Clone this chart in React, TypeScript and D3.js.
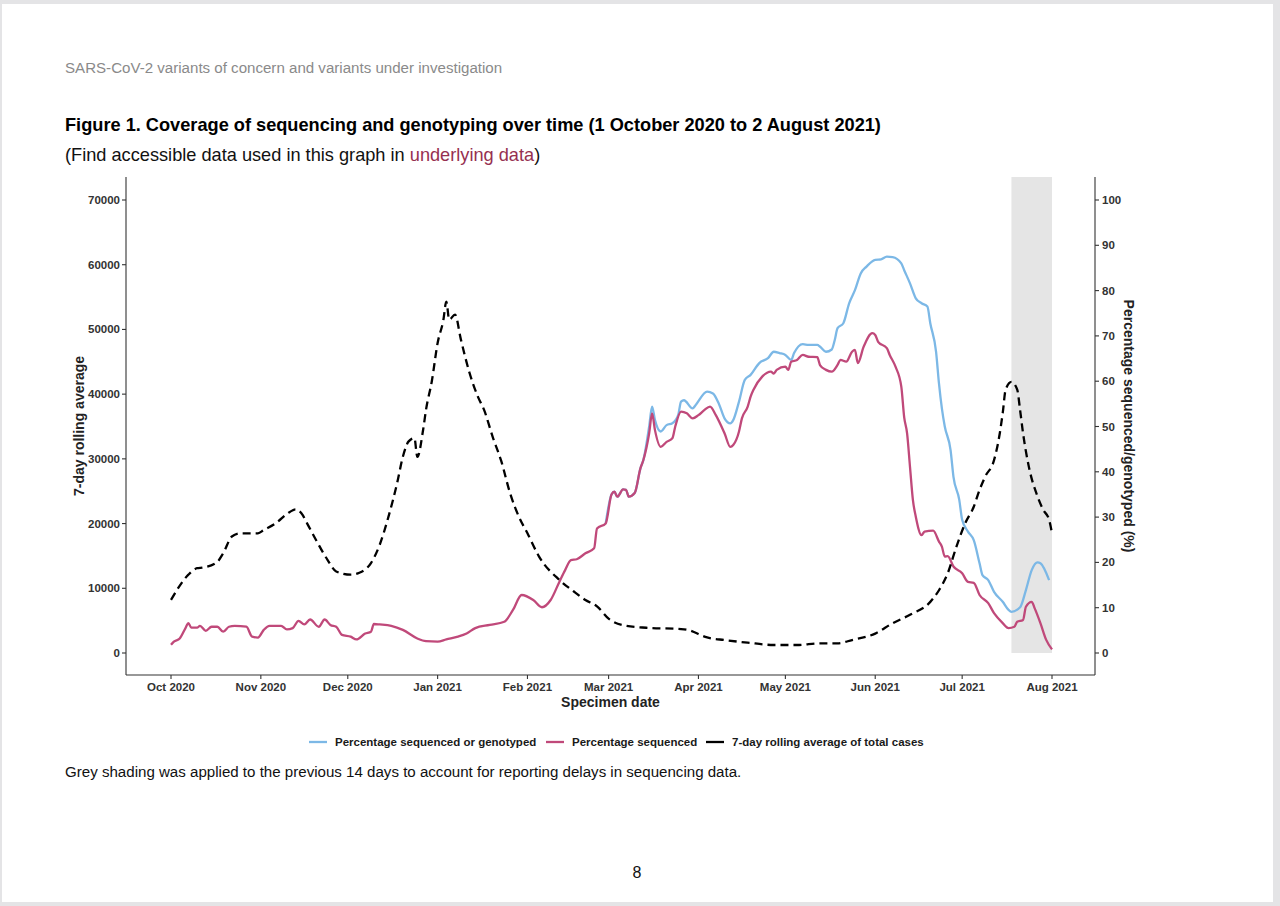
import React from "react";
import * as d3 from "d3";

// ---------- DATA ----------
const monthTicks: string[] = [
  "2020-10-01", "2020-11-01", "2020-12-01", "2021-01-01", "2021-02-01", "2021-03-01",
  "2021-04-01", "2021-05-01", "2021-06-01", "2021-07-01", "2021-08-01",
];
const leftTicks: number[] = [0, 10000, 20000, 30000, 40000, 50000, 60000, 70000];
const rightTicks: number[] = [0, 10, 20, 30, 40, 50, 60, 70, 80, 90, 100];

const shadeRange: string[] = ["2021-07-18", "2021-08-01"];

// 7-day rolling average of total cases (left axis)
const caseDates: string[] = [
  "2020-10-01", "2020-10-07", "2020-10-10", "2020-10-12", "2020-10-17", "2020-10-19", "2020-10-22",
  "2020-10-25", "2020-10-31", "2020-11-02", "2020-11-06", "2020-11-11", "2020-11-13", "2020-11-15",
  "2020-11-17", "2020-11-20", "2020-11-24", "2020-11-27", "2020-12-02", "2020-12-05", "2020-12-09",
  "2020-12-12", "2020-12-15", "2020-12-18", "2020-12-20", "2020-12-22", "2020-12-24", "2020-12-25",
  "2020-12-27", "2020-12-28", "2020-12-30", "2021-01-01", "2021-01-03", "2021-01-04", "2021-01-05",
  "2021-01-07", "2021-01-09", "2021-01-12", "2021-01-15", "2021-01-17", "2021-01-20", "2021-01-23",
  "2021-01-26", "2021-01-29", "2021-02-01", "2021-02-05", "2021-02-12", "2021-02-17", "2021-02-21",
  "2021-02-25", "2021-03-01", "2021-03-06", "2021-03-14", "2021-03-26", "2021-03-28", "2021-04-04",
  "2021-04-10", "2021-04-18", "2021-04-27", "2021-05-05", "2021-05-13", "2021-05-19", "2021-05-24",
  "2021-06-01", "2021-06-07", "2021-06-13", "2021-06-20", "2021-06-23", "2021-06-26", "2021-06-29",
  "2021-07-02", "2021-07-05", "2021-07-07", "2021-07-09", "2021-07-12", "2021-07-14", "2021-07-15",
  "2021-07-16", "2021-07-18", "2021-07-20", "2021-07-21", "2021-07-22", "2021-07-24", "2021-07-27",
  "2021-07-29", "2021-07-31", "2021-08-01",
];
const caseValues: number[] = [
  8200, 12100, 13100, 13200, 14100, 15400, 18000,
  18500, 18500, 19000, 20000, 21800, 22200, 21600,
  20000, 17500, 14400, 12600, 12100, 12400, 13900,
  16700, 21000, 26200, 30300, 32700, 33200, 30300,
  34500, 37600, 42000, 47900, 51500, 54300, 51500,
  52300, 48500, 43300, 39500, 37600, 33400, 29600,
  24700, 21100, 18500, 14900, 11300, 9500, 8200,
  7200, 5300, 4300, 3900, 3700, 3600, 2400,
  2000, 1600, 1240, 1240, 1500, 1500, 2000,
  3000, 4600, 5900, 7900, 9700, 12300, 16400,
  20000, 22600, 25200, 27300, 29800, 34000, 37100,
  40700, 41900, 40700, 37500, 34000, 28800, 24200,
  22100, 20600, 18500,
];

// Percentage sequenced (right axis)
const seqDates: string[] = [
  "2020-10-01", "2020-10-02", "2020-10-04", "2020-10-06", "2020-10-07", "2020-10-08", "2020-10-10",
  "2020-10-11", "2020-10-13", "2020-10-15", "2020-10-17", "2020-10-19", "2020-10-21", "2020-10-23",
  "2020-10-27", "2020-10-29", "2020-10-31", "2020-11-02", "2020-11-04", "2020-11-08", "2020-11-10",
  "2020-11-12", "2020-11-14", "2020-11-16", "2020-11-18", "2020-11-21", "2020-11-23", "2020-11-25",
  "2020-11-27", "2020-11-29", "2020-12-02", "2020-12-04", "2020-12-07", "2020-12-09", "2020-12-10",
  "2020-12-12", "2020-12-16", "2020-12-20", "2020-12-25", "2020-12-28", "2021-01-01", "2021-01-04",
  "2021-01-08", "2021-01-11", "2021-01-14", "2021-01-19", "2021-01-24", "2021-01-27", "2021-01-30",
  "2021-02-03", "2021-02-06", "2021-02-09", "2021-02-12", "2021-02-14", "2021-02-16", "2021-02-18",
  "2021-02-21", "2021-02-24", "2021-02-25", "2021-02-28", "2021-03-02", "2021-03-03", "2021-03-04",
  "2021-03-06", "2021-03-07", "2021-03-08", "2021-03-10", "2021-03-12", "2021-03-13", "2021-03-15",
  "2021-03-16", "2021-03-17", "2021-03-19", "2021-03-21", "2021-03-23", "2021-03-24", "2021-03-26",
  "2021-03-28", "2021-03-30", "2021-04-01", "2021-04-03", "2021-04-05", "2021-04-07", "2021-04-10",
  "2021-04-12", "2021-04-13", "2021-04-15", "2021-04-16", "2021-04-18", "2021-04-19", "2021-04-20",
  "2021-04-23", "2021-04-26", "2021-04-27", "2021-04-28", "2021-05-01", "2021-05-02", "2021-05-03",
  "2021-05-05", "2021-05-07", "2021-05-09", "2021-05-12", "2021-05-13", "2021-05-15", "2021-05-17",
  "2021-05-19", "2021-05-20", "2021-05-22", "2021-05-24", "2021-05-25", "2021-05-26", "2021-05-28",
  "2021-05-31", "2021-06-01", "2021-06-02", "2021-06-05", "2021-06-06", "2021-06-08", "2021-06-10",
  "2021-06-11", "2021-06-12", "2021-06-13", "2021-06-14", "2021-06-15", "2021-06-17", "2021-06-18",
  "2021-06-21", "2021-06-23", "2021-06-24", "2021-06-25", "2021-06-26", "2021-06-28", "2021-07-01",
  "2021-07-03", "2021-07-05", "2021-07-07", "2021-07-10", "2021-07-12", "2021-07-15", "2021-07-17",
  "2021-07-19", "2021-07-20", "2021-07-22", "2021-07-23", "2021-07-25", "2021-07-26", "2021-07-28",
  "2021-07-30", "2021-08-01",
];
const seqValues: number[] = [
  1.8, 2.5, 3.2, 5.5, 6.6, 5.6, 5.6,
  6.0, 4.9, 5.8, 5.8, 4.7, 5.8, 6.0,
  5.8, 3.6, 3.4, 5.1, 6.0, 6.0, 5.2,
  5.5, 7.1, 6.3, 7.4, 5.8, 7.4, 6.2,
  5.8, 4.0, 3.6, 3.0, 4.3, 4.7, 6.4,
  6.3, 6.0, 5.1, 3.2, 2.6, 2.5, 3.0,
  3.6, 4.3, 5.5, 6.2, 6.9, 9.5, 12.8,
  11.7, 10.1, 11.7, 15.7, 18.3, 20.5, 20.7,
  22.0, 23.1, 27.5, 28.6, 35.0, 35.6, 34.5,
  36.1, 36.0, 34.5, 35.3, 40.8, 42.6, 48.5,
  52.9, 49.2, 45.5, 46.6, 47.4, 50.0, 53.3,
  52.9, 51.8, 52.5, 53.6, 54.4, 52.5, 48.5,
  45.5, 45.9, 48.9, 51.8, 54.4, 56.6, 58.1,
  61.0, 62.1, 61.7, 62.5, 63.2, 62.5, 64.3,
  64.7, 65.8, 65.4, 65.3, 63.5, 62.5, 62.1,
  63.6, 64.7, 64.3, 66.5, 66.9, 64.0, 67.6,
  70.6, 70.2, 68.7, 67.3, 65.8, 63.2, 58.8,
  52.0, 48.5, 41.1, 33.8, 30.1, 26.0, 26.8,
  27.0, 24.6, 23.5, 21.3, 21.4, 19.1, 17.6,
  15.7, 15.5, 12.8, 11.0, 8.8, 6.6, 5.5,
  5.8, 6.9, 7.3, 10.2, 11.3, 9.9, 6.6,
  2.9, 0.8,
];

// Percentage sequenced or genotyped (right axis)
const seqGenoDates: string[] = [
  "2021-02-28", "2021-03-02", "2021-03-03", "2021-03-04", "2021-03-06", "2021-03-07", "2021-03-08",
  "2021-03-10", "2021-03-12", "2021-03-13", "2021-03-15", "2021-03-16", "2021-03-17", "2021-03-19",
  "2021-03-21", "2021-03-23", "2021-03-25", "2021-03-26", "2021-03-27", "2021-03-30", "2021-03-31",
  "2021-04-04", "2021-04-06", "2021-04-08", "2021-04-10", "2021-04-12", "2021-04-13", "2021-04-15",
  "2021-04-17", "2021-04-19", "2021-04-22", "2021-04-25", "2021-04-27", "2021-04-29", "2021-05-01",
  "2021-05-03", "2021-05-04", "2021-05-07", "2021-05-09", "2021-05-12", "2021-05-13", "2021-05-15",
  "2021-05-17", "2021-05-18", "2021-05-19", "2021-05-21", "2021-05-23", "2021-05-25", "2021-05-27",
  "2021-05-29", "2021-06-01", "2021-06-03", "2021-06-05", "2021-06-07", "2021-06-10", "2021-06-11",
  "2021-06-13", "2021-06-15", "2021-06-17", "2021-06-19", "2021-06-20", "2021-06-22", "2021-06-23",
  "2021-06-24", "2021-06-25", "2021-06-27", "2021-06-28", "2021-06-30", "2021-07-01", "2021-07-03",
  "2021-07-05", "2021-07-07", "2021-07-08", "2021-07-10", "2021-07-12", "2021-07-15", "2021-07-17",
  "2021-07-18", "2021-07-21", "2021-07-23", "2021-07-25", "2021-07-27", "2021-07-28", "2021-07-31",
];
const seqGenoValues: number[] = [
  28.6, 35.0, 35.6, 34.5, 36.1, 36.0, 34.5,
  35.3, 40.8, 42.6, 50.0, 54.4, 51.4, 48.9,
  50.3, 50.7, 52.5, 55.5, 55.8, 54.0, 54.7,
  57.7, 57.3, 55.1, 51.8, 50.7, 51.4, 55.5,
  60.3, 61.4, 64.0, 65.1, 66.5, 66.2, 65.8,
  64.7, 66.2, 68.2, 68.0, 68.0, 67.6, 66.5,
  67.0, 69.0, 71.7, 72.8, 77.2, 80.1, 83.8,
  85.3, 86.8, 86.9, 87.5, 87.4, 86.0, 84.5,
  81.6, 78.3, 77.2, 76.5, 72.8, 66.5, 59.5,
  54.0, 50.0, 44.8, 38.9, 33.8, 29.4, 26.8,
  24.9, 19.8, 17.2, 16.1, 13.5, 11.3, 9.5,
  9.1, 10.1, 13.9, 18.3, 20.0, 19.8, 16.1,
];

const legendLabels: string[] = [
  "Percentage sequenced or genotyped",
  "Percentage sequenced",
  "7-day rolling average of total cases",
];

// ---------- STYLE / LAYOUT ----------
const W = 1280;
const H = 906;
const FONT = "'Liberation Sans', Arial, Helvetica, sans-serif";
const BLUE = "#7cb8e6";
const PINK = "#c0497a";
const AXIS = "#333333";

const panel = { left: 126, right: 1095, top: 177, bottom: 675 };

export default function App() {
  const parse = d3.timeParse("%Y-%m-%d");
  const tickDates = monthTicks.map((s) => parse(s) as Date);

  const x = d3
    .scaleTime()
    .domain([tickDates[0], tickDates[tickDates.length - 1]])
    .range([171, 1052]);
  const yL = d3.scaleLinear().domain([0, 70000]).range([653, 200]);
  const yR = d3.scaleLinear().domain([0, 100]).range([653, 200]);

  const cases = caseDates.map((d, i) => ({ d: parse(d) as Date, v: caseValues[i] }));
  const seq = seqDates.map((d, i) => ({ d: parse(d) as Date, v: seqValues[i] }));
  const seqGeno = seqGenoDates.map((d, i) => ({ d: parse(d) as Date, v: seqGenoValues[i] }));

  const lineCases = d3
    .line<{ d: Date; v: number }>()
    .x((p) => x(p.d))
    .y((p) => yL(p.v))
    .curve(d3.curveMonotoneX);
  const linePct = d3
    .line<{ d: Date; v: number }>()
    .x((p) => x(p.d))
    .y((p) => yR(p.v))
    .curve(d3.curveMonotoneX);

  const fmt = d3.timeFormat("%b %Y");
  const shadeX0 = x(parse(shadeRange[0]) as Date);
  const shadeX1 = x(parse(shadeRange[1]) as Date);

  const legendY = 742;
  const legendItems = [
    { label: legendLabels[0], color: BLUE, x0: 309 },
    { label: legendLabels[1], color: PINK, x0: 546 },
    { label: legendLabels[2], color: "#000", x0: 706 },
  ];

  return (
    <svg
      width={W}
      height={H}
      viewBox={`0 0 ${W} ${H}`}
      style={{ position: "absolute", left: 0, top: 0, display: "block" }}
      fontFamily={FONT}
    >
      {/* page backdrop */}
      <rect x={0} y={0} width={W} height={H} fill="#e4e4e6" />
      <rect x={2} y={4} width={1271} height={898} fill="#ffffff" />

      {/* header texts */}
      <text x={65} y={73} fontSize={15.1} fill="#8a8a8a">
        SARS-CoV-2 variants of concern and variants under investigation
      </text>
      <text x={65} y={131} fontSize={18.2} fontWeight="bold" fill="#000">
        Figure 1. Coverage of sequencing and genotyping over time (1 October 2020 to 2 August 2021)
      </text>
      <text x={65} y={161} fontSize={18.2} fill="#111">
        (Find accessible data used in this graph in{" "}
        <tspan fill="#963050">underlying data</tspan>)
      </text>

      {/* grey shading */}
      <rect
        x={shadeX0}
        y={panel.top}
        width={shadeX1 - shadeX0}
        height={yR(0) - panel.top}
        fill="#e5e5e5"
      />

      {/* lines */}
      <path d={linePct(seqGeno) || ""} fill="none" stroke={BLUE} strokeWidth={2.3} strokeLinejoin="round" />
      <path d={linePct(seq) || ""} fill="none" stroke={PINK} strokeWidth={2.3} strokeLinejoin="round" />
      <path
        d={lineCases(cases) || ""}
        fill="none"
        stroke="#000"
        strokeWidth={2.3}
        strokeDasharray="8,5"
      />

      {/* axes lines */}
      <line x1={panel.left} x2={panel.left} y1={panel.top} y2={panel.bottom} stroke={AXIS} strokeWidth={1.1} />
      <line x1={panel.right} x2={panel.right} y1={panel.top} y2={panel.bottom} stroke={AXIS} strokeWidth={1.1} />
      <line x1={panel.left} x2={panel.right} y1={panel.bottom} y2={panel.bottom} stroke={AXIS} strokeWidth={1.1} />

      {/* left ticks */}
      {leftTicks.map((t) => (
        <g key={"l" + t}>
          <line x1={panel.left - 4} x2={panel.left} y1={yL(t)} y2={yL(t)} stroke={AXIS} strokeWidth={1.1} />
          <text
            x={panel.left - 6}
            y={yL(t)}
            dy="0.35em"
            textAnchor="end"
            fontSize={11.5}
            fontWeight="bold"
            fill="#333"
          >
            {t}
          </text>
        </g>
      ))}

      {/* right ticks */}
      {rightTicks.map((t) => (
        <g key={"r" + t}>
          <line x1={panel.right} x2={panel.right + 4} y1={yR(t)} y2={yR(t)} stroke={AXIS} strokeWidth={1.1} />
          <text
            x={panel.right + 7}
            y={yR(t)}
            dy="0.35em"
            textAnchor="start"
            fontSize={11.5}
            fontWeight="bold"
            fill="#333"
          >
            {t}
          </text>
        </g>
      ))}

      {/* bottom ticks */}
      {tickDates.map((d, i) => (
        <g key={"x" + i}>
          <line x1={x(d)} x2={x(d)} y1={panel.bottom} y2={panel.bottom + 4} stroke={AXIS} strokeWidth={1.1} />
          <text
            x={x(d)}
            y={panel.bottom + 16}
            textAnchor="middle"
            fontSize={11.5}
            fontWeight="bold"
            fill="#333"
          >
            {fmt(d)}
          </text>
        </g>
      ))}

      {/* axis titles */}
      <text
        x={(panel.left + panel.right) / 2}
        y={707}
        textAnchor="middle"
        fontSize={14}
        fontWeight="bold"
        fill="#222"
      >
        Specimen date
      </text>
      <text
        transform={`translate(79, ${(panel.top + panel.bottom) / 2}) rotate(-90)`}
        textAnchor="middle"
        dy="0.35em"
        fontSize={14}
        fontWeight="bold"
        fill="#222"
      >
        7-day rolling average
      </text>
      <text
        transform={`translate(1129, ${(panel.top + panel.bottom) / 2}) rotate(90)`}
        textAnchor="middle"
        dy="0.35em"
        fontSize={14}
        fontWeight="bold"
        fill="#222"
      >
        Percentage sequenced/genotyped (%)
      </text>

      {/* legend */}
      {legendItems.map((it) => (
        <g key={it.label}>
          <line x1={it.x0} x2={it.x0 + 18} y1={legendY} y2={legendY} stroke={it.color} strokeWidth={2.3} />
          <text x={it.x0 + 26} y={legendY} dy="0.35em" fontSize={11.5} fontWeight="bold" fill="#1a1a1a">
            {it.label}
          </text>
        </g>
      ))}

      {/* footnote */}
      <text x={65} y={777} fontSize={15.1} fill="#111">
        Grey shading was applied to the previous 14 days to account for reporting delays in sequencing data.
      </text>

      {/* page number */}
      <text x={637} y={878} textAnchor="middle" fontSize={16} fill="#111">
        8
      </text>
    </svg>
  );
}
